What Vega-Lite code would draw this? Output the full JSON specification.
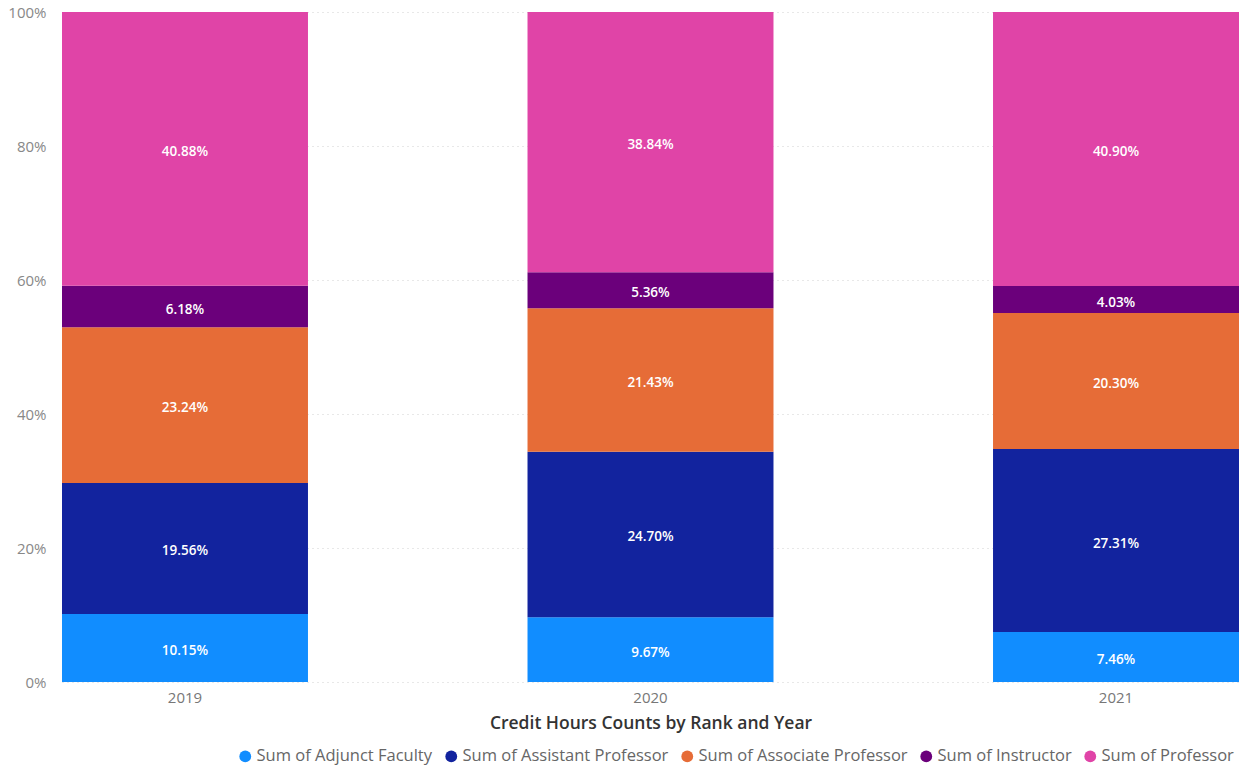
{
  "$schema": "https://vega.github.io/schema/vega-lite/v6.json",
  "autosize": "none",
  "width": 1177,
  "height": 670,
  "padding": {"left": 62, "top": 12, "right": 2, "bottom": 84},
  "background": "white",
  "config": {
    "font": "Open Sans",
    "view": {"stroke": null}
  },
  "data": {
    "values": [
      {"year": "2019", "rank": "Sum of Adjunct Faculty", "pct": 0.1015},
      {"year": "2019", "rank": "Sum of Assistant Professor", "pct": 0.1956},
      {"year": "2019", "rank": "Sum of Associate Professor", "pct": 0.2324},
      {"year": "2019", "rank": "Sum of Instructor", "pct": 0.0618},
      {"year": "2019", "rank": "Sum of Professor", "pct": 0.4088},
      {"year": "2020", "rank": "Sum of Adjunct Faculty", "pct": 0.0967},
      {"year": "2020", "rank": "Sum of Assistant Professor", "pct": 0.2470},
      {"year": "2020", "rank": "Sum of Associate Professor", "pct": 0.2143},
      {"year": "2020", "rank": "Sum of Instructor", "pct": 0.0536},
      {"year": "2020", "rank": "Sum of Professor", "pct": 0.3884},
      {"year": "2021", "rank": "Sum of Adjunct Faculty", "pct": 0.0746},
      {"year": "2021", "rank": "Sum of Assistant Professor", "pct": 0.2731},
      {"year": "2021", "rank": "Sum of Associate Professor", "pct": 0.2030},
      {"year": "2021", "rank": "Sum of Instructor", "pct": 0.0403},
      {"year": "2021", "rank": "Sum of Professor", "pct": 0.4090}
    ]
  },
  "encoding": {
    "x": {
      "field": "year",
      "type": "ordinal",
      "scale": {"paddingInner": 0.4716, "paddingOuter": 0},
      "axis": {
        "title": "Credit Hours Counts by Rank and Year",
        "titleFont": "Open Sans",
        "titleFontSize": 17.5,
        "titleFontWeight": 600,
        "titleColor": "#333333",
        "titlePadding": 9,
        "labelAngle": 0,
        "labelFontSize": 15,
        "labelColor": "#777777",
        "labelPadding": 8,
        "ticks": false,
        "domain": false
      }
    },
    "order": {"field": "rank", "sort": "ascending"}
  },
  "layer": [
    {
      "mark": {"type": "bar"},
      "encoding": {
        "y": {
          "field": "pct",
          "type": "quantitative",
          "stack": "normalize",
          "scale": {"domain": [0, 1]},
          "axis": {
            "title": null,
            "format": ".0%",
            "values": [0, 0.2, 0.4, 0.6, 0.8, 1],
            "labelFontSize": 15,
            "labelColor": "#888888",
            "labelPadding": 16,
            "ticks": false,
            "domain": false,
            "grid": true,
            "gridColor": "#d0d0d0",
            "gridDash": [1, 4],
            "gridWidth": 1
          }
        },
        "color": {
          "field": "rank",
          "type": "nominal",
          "scale": {
            "domain": ["Sum of Adjunct Faculty", "Sum of Assistant Professor", "Sum of Associate Professor", "Sum of Instructor", "Sum of Professor"],
            "range": ["#118DFF", "#12239E", "#E66C37", "#6B007B", "#E044A7"]
          },
          "legend": {
            "title": null,
            "orient": "none",
            "direction": "horizontal",
            "legendX": 175,
            "legendY": 736,
            "symbolType": "circle",
            "symbolSize": 140,
            "symbolStrokeWidth": 0,
            "labelFontSize": 16.5,
            "labelColor": "#666666",
            "labelOffset": 3,
            "labelLimit": 400,
            "columnPadding": 10
          }
        }
      }
    },
    {
      "mark": {"type": "text", "color": "white", "fontSize": 13.5, "fontWeight": 600, "font": "Open Sans", "dy": 3},
      "encoding": {
        "y": {"field": "pct", "type": "quantitative", "stack": "normalize", "bandPosition": 0.5},
        "detail": {"field": "rank"},
        "text": {"field": "pct", "type": "quantitative", "format": ".2%"}
      }
    }
  ]
}
